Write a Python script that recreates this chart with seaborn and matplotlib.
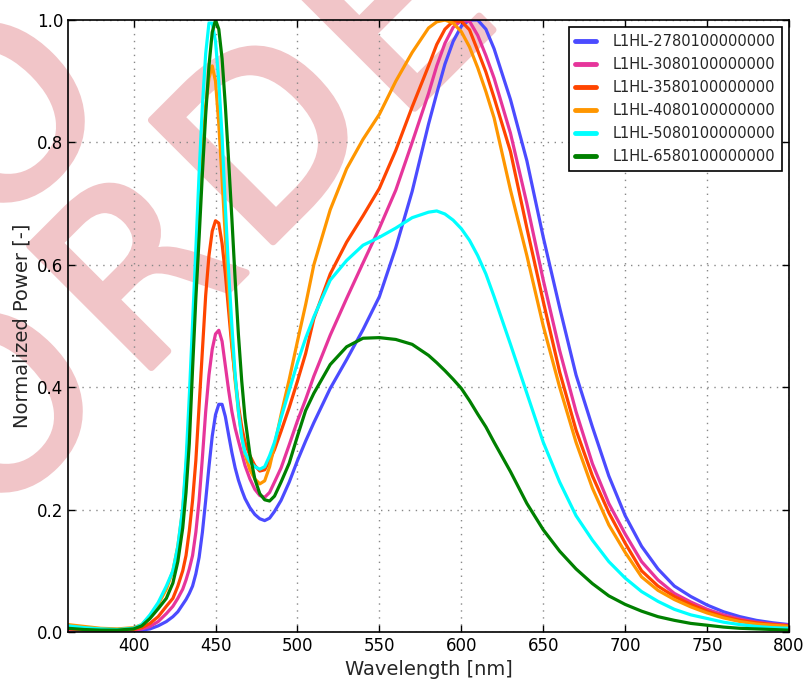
import matplotlib
matplotlib.use("Agg")
import matplotlib.pyplot as plt
import matplotlib.patheffects as pe
import seaborn as sns
import pandas as pd

# wavelength grid [nm], shared by all spectra
wavelength = [360, 370, 380, 390, 400, 405, 410, 415,
              420, 424, 427,
              430, 432, 434, 436, 438, 440, 442, 444, 446, 448,
              450, 452, 454, 456, 458, 460, 462, 464, 466, 468,
              471, 474, 477, 480,
              483, 486, 490, 495, 500, 505, 510,
              520, 530, 540, 550, 560, 570, 580,
              585, 590, 595, 600, 605, 610, 615, 620,
              630, 640, 650, 660, 670, 680, 690, 700, 710, 720,
              730, 740, 750, 760, 770, 780, 790, 800]

parts = ["L1HL-2780100000000", "L1HL-3080100000000", "L1HL-3580100000000",
         "L1HL-4080100000000", "L1HL-5080100000000", "L1HL-6580100000000"]
colors = ["#4b4bff", "#e6359b", "#ff4500", "#ff9600", "#00ffff", "#008000"]

p2780 = [0.003, 0.003, 0.002, 0.002, 0.002, 0.003, 0.005, 0.010,
         0.017, 0.025, 0.033,
         0.045, 0.053, 0.063, 0.075, 0.095, 0.122, 0.163, 0.215, 0.270, 0.320,
         0.355, 0.372, 0.372, 0.352, 0.322, 0.293, 0.268, 0.248, 0.232, 0.218,
         0.203, 0.192, 0.185, 0.182,
         0.186, 0.197, 0.215, 0.245, 0.280, 0.312, 0.342,
         0.398, 0.445, 0.494, 0.548, 0.628, 0.720, 0.830,
         0.880, 0.928, 0.965, 0.990, 1.000, 1.000, 0.985, 0.953,
         0.870, 0.770, 0.645, 0.530, 0.420, 0.335, 0.255, 0.190, 0.140, 0.103,
         0.075, 0.058, 0.044, 0.033, 0.025, 0.019, 0.015, 0.012]
p3080 = [0.004, 0.003, 0.002, 0.002, 0.003, 0.005, 0.009, 0.017,
         0.030, 0.042, 0.055,
         0.070, 0.085, 0.103, 0.125, 0.163, 0.215, 0.285, 0.360, 0.420, 0.462,
         0.487, 0.493, 0.475, 0.435, 0.395, 0.360, 0.333, 0.312, 0.292, 0.272,
         0.250, 0.233, 0.223, 0.220,
         0.228, 0.245, 0.268, 0.306, 0.345, 0.380, 0.418,
         0.485, 0.545, 0.603, 0.660, 0.722, 0.800, 0.880,
         0.925, 0.962, 0.988, 0.999, 0.998, 0.975, 0.942, 0.905,
         0.815, 0.700, 0.575, 0.460, 0.360, 0.275, 0.210, 0.160, 0.115, 0.085,
         0.063, 0.049, 0.037, 0.028, 0.021, 0.016, 0.013, 0.011]
p3580 = [0.005, 0.004, 0.003, 0.003, 0.004, 0.007, 0.014, 0.025,
         0.042, 0.055, 0.075,
         0.100, 0.125, 0.165, 0.215, 0.280, 0.370, 0.460, 0.550, 0.615, 0.655,
         0.672, 0.668, 0.635, 0.585, 0.525, 0.465, 0.415, 0.370, 0.335, 0.310,
         0.288, 0.272, 0.263, 0.265,
         0.280, 0.298, 0.328, 0.367, 0.410, 0.455, 0.512,
         0.585, 0.637, 0.680, 0.725, 0.787, 0.858, 0.925,
         0.960, 0.985, 0.998, 0.998, 0.984, 0.950, 0.915, 0.873,
         0.785, 0.660, 0.540, 0.425, 0.330, 0.255, 0.195, 0.145, 0.100, 0.075,
         0.058, 0.045, 0.034, 0.025, 0.019, 0.015, 0.012, 0.010]
p4080 = [0.012, 0.009, 0.006, 0.005, 0.007, 0.012, 0.026, 0.045,
         0.070, 0.100, 0.140,
         0.200, 0.270, 0.350, 0.460, 0.590, 0.700, 0.785, 0.860, 0.905, 0.925,
         0.900, 0.830, 0.740, 0.645, 0.555, 0.475, 0.410, 0.360, 0.320, 0.290,
         0.265, 0.250, 0.242, 0.247,
         0.270, 0.305, 0.355, 0.413, 0.475, 0.535, 0.600,
         0.690, 0.757, 0.805, 0.846, 0.900, 0.947, 0.987,
         0.997, 1.000, 0.995, 0.981, 0.956, 0.922, 0.883, 0.840,
         0.722, 0.615, 0.500, 0.400, 0.310, 0.235, 0.175, 0.130, 0.090, 0.068,
         0.053, 0.041, 0.031, 0.023, 0.017, 0.013, 0.011, 0.009]
p5080 = [0.010, 0.007, 0.005, 0.004, 0.006, 0.012, 0.028, 0.048,
         0.075, 0.100, 0.140,
         0.203, 0.280, 0.385, 0.505, 0.625, 0.750, 0.860, 0.945, 0.995, 0.995,
         0.965, 0.900, 0.810, 0.695, 0.590, 0.500, 0.420, 0.360, 0.318, 0.293,
         0.278, 0.270, 0.266, 0.270,
         0.288, 0.310, 0.350, 0.395, 0.440, 0.480, 0.515,
         0.575, 0.607, 0.632, 0.645, 0.660, 0.677, 0.686,
         0.688, 0.683, 0.673, 0.659, 0.640, 0.615, 0.585, 0.548,
         0.470, 0.390, 0.310, 0.245, 0.190, 0.150, 0.115, 0.088, 0.066, 0.050,
         0.037, 0.028, 0.022, 0.016, 0.012, 0.009, 0.007, 0.006]
p6580 = [0.006, 0.004, 0.003, 0.003, 0.005, 0.010, 0.022, 0.038,
         0.055, 0.080, 0.115,
         0.170, 0.228, 0.308, 0.430, 0.545, 0.645, 0.750, 0.845, 0.925, 0.980,
         1.000, 0.985, 0.937, 0.860, 0.770, 0.675, 0.575, 0.485, 0.410, 0.350,
         0.290, 0.250, 0.226, 0.216,
         0.214, 0.222, 0.245, 0.276, 0.320, 0.362, 0.390,
         0.437, 0.466, 0.480, 0.481, 0.478, 0.470, 0.452,
         0.440, 0.427, 0.413, 0.398, 0.378, 0.356, 0.335, 0.310,
         0.262, 0.210, 0.167, 0.132, 0.103, 0.079, 0.059, 0.045, 0.034, 0.025,
         0.019, 0.014, 0.011, 0.008, 0.006, 0.005, 0.004, 0.003]
spectra = [p2780, p3080, p3580, p4080, p5080, p6580]

x_ticks = [400, 450, 500, 550, 600, 650, 700, 750, 800]
y_ticks = [0.0, 0.2, 0.4, 0.6, 0.8, 1.0]

# long form table for seaborn
rows = []
for name, vals in zip(parts, spectra):
    for w, v in zip(wavelength, vals):
        rows.append({"wl": w, "power": v, "part": name})
df = pd.DataFrame(rows)

sns.set_style("white", {
    "xtick.direction": "in", "ytick.direction": "in",
    "xtick.top": True, "ytick.right": True,
    "xtick.bottom": True, "ytick.left": True,
    "axes.edgecolor": "black",
})
plt.rcParams["font.family"] = ["DejaVu Sans"]

fig = plt.figure(figsize=(8.06, 6.81), dpi=100)
ax = fig.add_axes([0.0844, 0.072, 0.8946, 0.8986])
ax.patch.set_alpha(0)  # let the watermark behind the axes show through

sns.lineplot(data=df, x="wl", y="power", hue="part", palette=colors,
             hue_order=parts, linewidth=2.3, sort=False, estimator=None, ax=ax)
for ln in ax.get_lines():
    ln.set_solid_joinstyle("round")

ax.set_xlim(360, 800)
ax.set_ylim(0, 1.0)
ax.set_xticks(x_ticks)
ax.set_yticks(y_ticks)
ax.set_yticklabels([f"{t:.1f}" for t in y_ticks])
ax.tick_params(labelsize=12, length=5, width=1, colors="black")
ax.grid(True, linestyle=(0, (1, 4)), color="#888888", linewidth=1)
for s in ax.spines.values():
    s.set_linewidth(1.2)
ax.set_xlabel("Wavelength [nm]", fontsize=14)
ax.set_ylabel("Normalized Power [-]", fontsize=14)

handles, labels = ax.get_legend_handles_labels()
leg = ax.legend(handles, labels, loc="upper right", fontsize=10.5,
                fancybox=False, framealpha=1, edgecolor="black",
                handlelength=1.45, handletextpad=1.1, labelspacing=0.55,
                borderaxespad=0.5, borderpad=0.45)
leg.get_frame().set_linewidth(1.2)
for ln in leg.get_lines():
    ln.set_linewidth(3.5)

# pink watermark letters, rotated 45 degrees (pixel centres, y from top)
wm_letters = ["O", "R", "D", "E", "O"]
wm_centres = [(7, 417), (147, 280), (275, 148), (405, 26), (9, 127)]
for ch, (px, py) in zip(wm_letters, wm_centres):
    fig.text(px / 806, 1 - py / 681, ch, fontsize=170, color="#f1c5c8",
             rotation=45, ha="center", va="center", rotation_mode="anchor",
             zorder=-1,
             path_effects=[pe.withStroke(linewidth=5, foreground="#f1c5c8")])

fig.savefig("out.png", dpi=100)
